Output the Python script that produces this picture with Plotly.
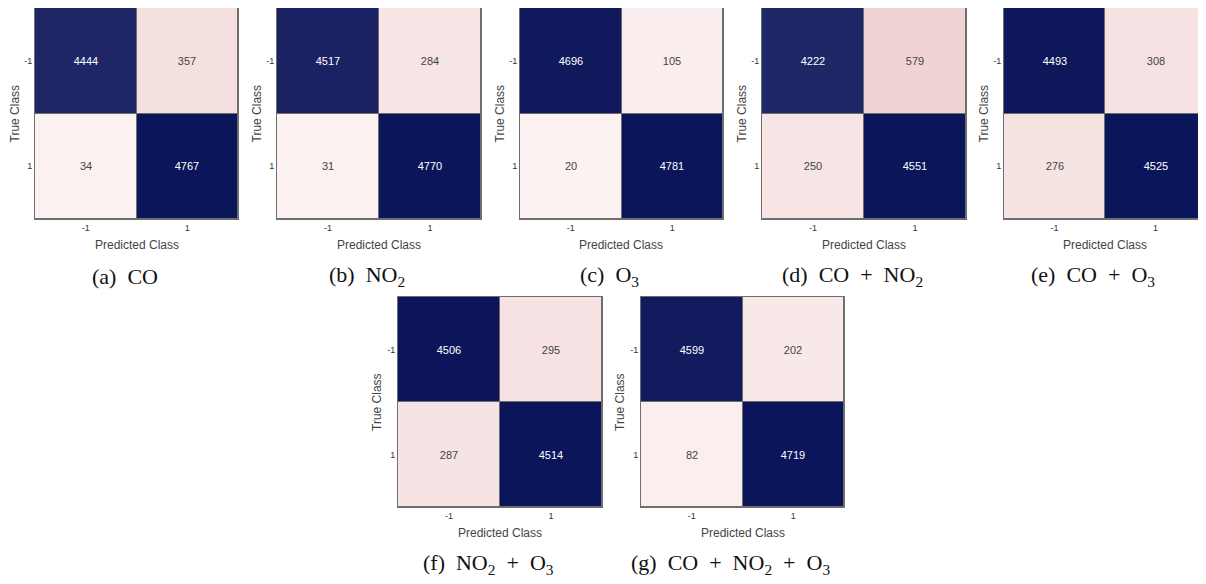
import plotly.graph_objects as go

# page body has an 8px margin; figure sized so it fills the rest of the window
OFF = 8
W, H = 1206 - OFF, 584 - OFF

classes = ["-1", "1"]
panel_ids = ["a", "b", "c", "d", "e", "f", "g"]
SP = "\u00a0\u00a0"
PLUS = SP + "+" + SP
captions = ["CO", "NO<sub>2</sub>", "O<sub>3</sub>", "CO" + PLUS + "NO<sub>2</sub>",
            "CO" + PLUS + "O<sub>3</sub>", "NO<sub>2</sub>" + PLUS + "O<sub>3</sub>",
            "CO" + PLUS + "NO<sub>2</sub>" + PLUS + "O<sub>3</sub>"]

cm_co = [[4444, 357], [34, 4767]]
cm_no2 = [[4517, 284], [31, 4770]]
cm_o3 = [[4696, 105], [20, 4781]]
cm_co_no2 = [[4222, 579], [250, 4551]]
cm_co_o3 = [[4493, 308], [276, 4525]]
cm_no2_o3 = [[4506, 295], [287, 4514]]
cm_all = [[4599, 202], [82, 4719]]
matrices = [cm_co, cm_no2, cm_o3, cm_co_no2, cm_co_o3, cm_no2_o3, cm_all]

# pixel boxes in window coordinates (left, right, top, bottom)
boxes = [(35, 238, 8, 219), (277, 481, 8, 219), (520, 723, 8, 219),
         (762, 966, 8, 219), (1004, 1206, 8, 219),
         (398, 602, 297, 507), (641, 844, 297, 507)]

colorscale = [[0.0, "#fcf3f2"], [0.13, "#f0d2d3"], [0.5, "#8a7a9a"],
              [0.9, "#282e6c"], [1.0, "#0b1559"]]

fig = go.Figure()
annotations = []
layout_axes = {}

def px(x):
    return (x - OFF) / W

def py(y):
    return 1 - (y - OFF) / H

FONT = "Liberation Sans, Arial"

for i, (m, pid, cap, box) in enumerate(zip(matrices, panel_ids, captions, boxes)):
    n = i + 1
    xa = "x" if n == 1 else f"x{n}"
    ya = "y" if n == 1 else f"y{n}"
    zmax = max(max(r) for r in m)
    fig.add_trace(go.Heatmap(
        z=m, x=classes, y=classes, xaxis=xa, yaxis=ya,
        zmin=0, zmax=zmax, colorscale=colorscale, showscale=False,
        xgap=1, ygap=1, texttemplate="%{z}",
        textfont=dict(family=FONT, size=11),
        hoverinfo="skip"))
    l, r, t, b = box
    axcommon = dict(showline=True, mirror=True, linecolor="#6e6e6e", linewidth=1,
                    ticks="", showgrid=False, zeroline=False, type="category",
                    tickfont=dict(family=FONT, size=9, color="#333333"))
    layout_axes["xaxis" if n == 1 else f"xaxis{n}"] = dict(
        domain=[max(0, px(l)), min(1, px(r))], anchor=ya, **axcommon)
    layout_axes["yaxis" if n == 1 else f"yaxis{n}"] = dict(
        domain=[max(0, py(b)), min(1, py(t))], anchor=xa, autorange="reversed", **axcommon)
    # axis titles
    annotations.append(dict(text="Predicted Class", x=px((l + r) / 2), y=py(b + 26),
                            xref="paper", yref="paper", showarrow=False,
                            xanchor="center", yanchor="middle",
                            font=dict(family=FONT, size=12, color="#444444")))
    annotations.append(dict(text="True Class", x=px(l - 21), y=py((t + b) / 2),
                            xref="paper", yref="paper", showarrow=False, textangle=-90,
                            xanchor="center", yanchor="middle",
                            font=dict(family=FONT, size=12, color="#444444")))
    # caption
    annotations.append(dict(text=f"({pid}){SP}{cap}", x=px((l + r) / 2 - 12), y=py(b + 57),
                            xref="paper", yref="paper", showarrow=False,
                            xanchor="center", yanchor="middle",
                            font=dict(family="Liberation Serif, serif", size=22, color="#111111")))

fig.update_layout(width=W, height=H, margin=dict(l=0, r=0, t=0, b=0),
                  paper_bgcolor="white", plot_bgcolor="#6e6e6e",
                  annotations=annotations, showlegend=False, **layout_axes)

fig.write_html("out.html")
